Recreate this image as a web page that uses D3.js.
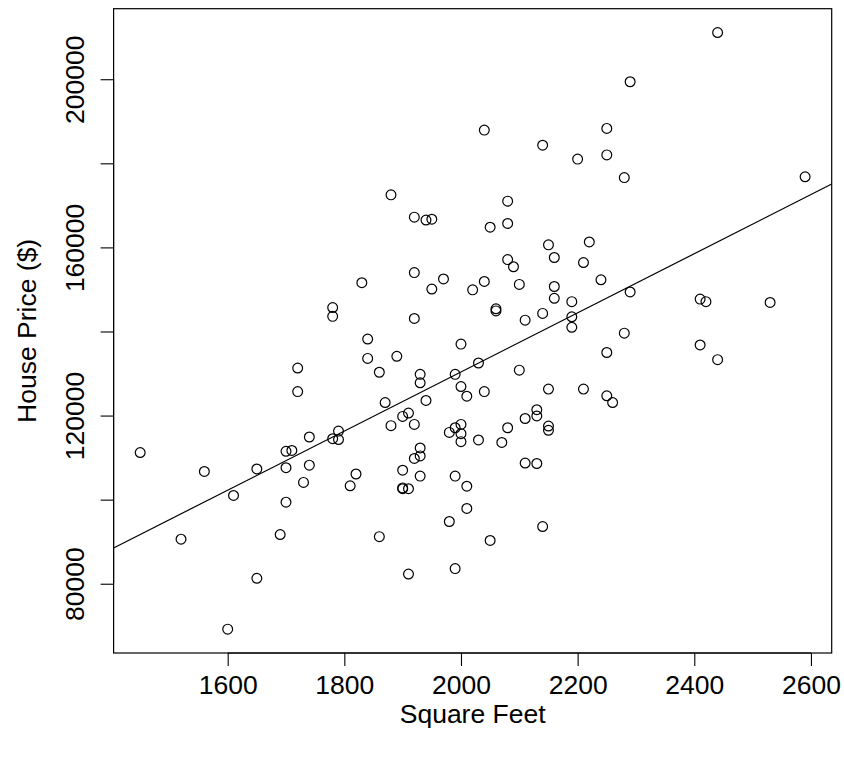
<!DOCTYPE html>
<html>
<head>
<meta charset="utf-8">
<script src="https://cdn.jsdelivr.net/npm/d3@7"></script>
<style>
  html, body { margin: 0; padding: 0; background: #ffffff; }
  #chart text { font-family: "Liberation Sans", Arial, Helvetica, sans-serif; fill: #000; }
</style>
</head>
<body>
<svg id="chart" width="844" height="757"></svg>
<script>
// square feet / house price pairs
const sqFeet = [
  2040, 2140, 2200, 1880, 2080, 1920, 1940, 1950, 2050, 2080,
  2150, 2220, 2160, 2210, 2080, 2090, 1920, 1830, 1970, 1950,
  2040, 2020, 2100, 2160, 2160, 2190, 2060, 2060, 2140, 2110,
  2190, 2190, 1920, 1840, 1840, 1890, 1860, 2000, 2030, 1930,
  1930, 1990, 2100, 2000, 2010, 2040, 2150, 2210, 1870, 1940,
  1900, 1910, 1880, 1920, 2110, 2130, 2130, 2150, 2150, 2080,
  1980, 1990, 2000, 2000, 2030, 2070, 2000, 2240, 2290, 2410,
  2420, 2530, 2280, 2250, 2410, 2440, 2250, 2260, 2440, 2290,
  2250, 2250, 2280, 2590, 1780, 1780, 1720, 1720, 1790, 1740,
  1780, 1790, 1450, 1560, 1650, 1700, 1710, 1700, 1740, 1730,
  1610, 1700, 1820, 1810, 1520, 1690, 1650, 1600, 1900, 1930,
  1920, 1930, 1930, 1900, 1900, 1910, 2110, 2130, 1990, 2010,
  2010, 1980, 1860, 2050, 2140, 1910, 1990
];
const housePrice = [
  187900, 184300, 181000, 172500, 171000, 167200, 166500, 166700, 164800, 165700,
  160600, 161300, 157600, 156400, 157100, 155400, 154000, 151600, 152500, 150100,
  151900, 149900, 151200, 150700, 147900, 147100, 145400, 144900, 144300, 142700,
  143500, 141000, 143100, 138200, 133600, 134100, 130300, 137000, 132500, 129800,
  127800, 129800, 130800, 126900, 124600, 125700, 126300, 126300, 123100, 123600,
  119800, 120600, 117600, 117900, 119300, 121400, 119900, 117500, 116500, 117100,
  116000, 117100, 117900, 115700, 114200, 113600, 113800, 152300, 149400, 147700,
  147100, 146900, 139600, 135000, 136800, 133300, 124700, 123100, 211100, 199400,
  188300, 182000, 176600, 176800, 145700, 143600, 131300, 125700, 116300, 114900,
  114500, 114300, 111200, 106700, 107300, 111500, 111700, 107600, 108200, 104100,
  101000, 99400, 106100, 103300, 90600, 91700, 81300, 69200, 107000, 112300,
  109800, 110400, 105600, 102600, 102800, 102600, 108700, 108600, 105600, 103200,
  97900, 94800, 91200, 90300, 93600, 82300, 83600
];

const xTicks = [1600, 1800, 2000, 2200, 2400, 2600];
const yTicks = [80000, 100000, 120000, 140000, 160000, 180000, 200000];
const yTickLabels = [80000, 120000, 160000, 200000];
const xTitle = "Square Feet";
const yTitle = "House Price ($)";

class HousePricePlot {
    constructor() {
        this.margin = { top: 8.7, right: 12.3, bottom: 104, left: 113.6 };
        this.svg = d3.select("#chart");
        this.fontSize = 26.5;
        this.tickLen = 13;
        this.width = 844 - this.margin.left - this.margin.right;
        this.height = 757 - this.margin.top - this.margin.bottom;
        this.points = sqFeet.map((s, i) => ({ x: s, y: housePrice[i] }));
        this.render();
    }

    // R style: data range stretched by 4% each side
    padded(ext) {
        const d = (ext[1] - ext[0]) * 0.04;
        return [ext[0] - d, ext[1] + d];
    }

    fitLine() {
        const mx = d3.mean(this.points, d => d.x);
        const my = d3.mean(this.points, d => d.y);
        let sxy = 0, sxx = 0;
        this.points.forEach(p => {
            sxy += (p.x - mx) * (p.y - my);
            sxx += (p.x - mx) * (p.x - mx);
        });
        const slope = sxy / sxx;
        return { slope: slope, intercept: my - slope * mx };
    }

    render() {
        const g = this.svg.append("g")
            .attr("transform", `translate(${this.margin.left},${this.margin.top})`);

        this.xScale = d3.scaleLinear()
            .domain(this.padded(d3.extent(sqFeet)))
            .range([0, this.width]);
        this.yScale = d3.scaleLinear()
            .domain(this.padded(d3.extent(housePrice)))
            .range([this.height, 0]);

        this.addAxes(g);
        this.addPoints(g);
        this.addFit(g);

        g.append("rect")
            .attr("width", this.width)
            .attr("height", this.height)
            .attr("fill", "none")
            .attr("stroke", "#000")
            .attr("stroke-width", 1.2);
    }

    addAxes(g) {
        const xAxis = g.append("g")
            .attr("transform", `translate(0,${this.height})`)
            .call(d3.axisBottom(this.xScale)
                .tickValues(xTicks)
                .tickSize(this.tickLen)
                .tickPadding(9)
                .tickFormat(d3.format("d")));

        const yAxis = g.append("g")
            .call(d3.axisLeft(this.yScale)
                .tickValues(yTicks)
                .tickSize(this.tickLen)
                .tickFormat(d => yTickLabels.includes(d) ? d3.format("d")(d) : ""));

        [xAxis, yAxis].forEach(a => {
            a.select(".domain").remove();
            a.selectAll(".tick line").attr("stroke", "#000").attr("stroke-width", 1.1);
            a.selectAll(".tick text")
                .style("font-size", this.fontSize + "px")
                .style("font-family", "'Liberation Sans', Arial, sans-serif");
        });
        xAxis.append("line")
            .attr("x1", this.xScale(xTicks[0])).attr("x2", this.xScale(xTicks[xTicks.length - 1]))
            .attr("stroke", "#000").attr("stroke-width", 1.1);
        yAxis.append("line")
            .attr("y1", this.yScale(yTicks[0])).attr("y2", this.yScale(yTicks[yTicks.length - 1]))
            .attr("stroke", "#000").attr("stroke-width", 1.1);

        // rotated y tick labels, like las = 0 in R
        yAxis.selectAll(".tick text")
            .attr("x", 0)
            .attr("dy", 0)
            .attr("transform", `translate(${-this.tickLen - 17},0) rotate(-90)`)
            .style("text-anchor", "middle");

        g.append("text")
            .attr("x", this.width / 2)
            .attr("y", this.height + 70)
            .style("text-anchor", "middle")
            .style("font-size", this.fontSize + "px")
            .text(xTitle);

        g.append("text")
            .attr("transform", `translate(${-this.margin.left + 36},${this.height / 2}) rotate(-90)`)
            .style("text-anchor", "middle")
            .style("font-size", this.fontSize + "px")
            .text(yTitle);
    }

    addPoints(g) {
        g.selectAll(".pt")
            .data(this.points)
            .enter()
            .append("circle")
            .attr("class", "pt")
            .attr("cx", d => this.xScale(d.x))
            .attr("cy", d => this.yScale(d.y))
            .attr("r", 4.9)
            .attr("fill", "none")
            .attr("stroke", "#000")
            .attr("stroke-width", 1.2);
    }

    addFit(g) {
        const fit = this.fitLine();
        const xs = this.xScale.domain();
        g.append("clipPath").attr("id", "plotClip")
            .append("rect").attr("width", this.width).attr("height", this.height);
        g.append("line")
            .attr("clip-path", "url(#plotClip)")
            .attr("x1", this.xScale(xs[0]))
            .attr("y1", this.yScale(fit.intercept + fit.slope * xs[0]))
            .attr("x2", this.xScale(xs[1]))
            .attr("y2", this.yScale(fit.intercept + fit.slope * xs[1]))
            .attr("stroke", "#000")
            .attr("stroke-width", 1.2);
    }
}

document.addEventListener('DOMContentLoaded', () => {
    window.chart = new HousePricePlot();
});
</script>
</body>
</html>
